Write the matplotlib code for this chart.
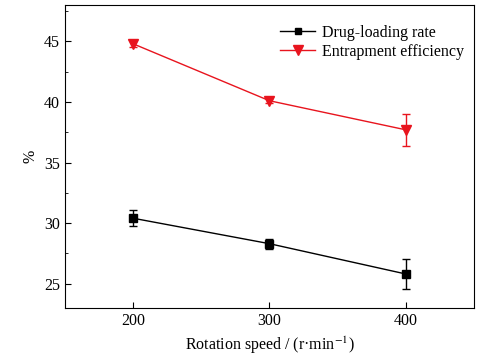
import matplotlib.pyplot as plt
from matplotlib.ticker import MultipleLocator
from matplotlib.lines import Line2D

speed = [200, 300, 400]
drug_loading = [30.4, 28.3, 25.8]
drug_loading_err = [0.65, 0.4, 1.25]
entrapment = [44.8, 40.1, 37.7]
entrapment_err = [0.3, 0.2, 1.3]

plt.rcParams['font.family'] = ['Liberation Serif', 'DejaVu Serif']
plt.rcParams['mathtext.fontset'] = 'stix'

red = '#e8141e'

fig = plt.figure(figsize=(4.92, 3.58), dpi=100)
ax = fig.add_axes([0.132, 0.14, 0.831, 0.846])

ax.errorbar(speed, drug_loading, yerr=drug_loading_err, color='black', marker='s',
            markersize=6, linewidth=1.0, elinewidth=1.0, capsize=3)
ax.errorbar(speed, entrapment, yerr=entrapment_err, color=red, marker='v',
            markersize=7, linewidth=1.0, elinewidth=1.0, capsize=3)

ax.set_xlim(150, 450)
ax.set_ylim(23, 48)
ax.set_xticks(speed)
ax.yaxis.set_major_locator(MultipleLocator(5))
ax.yaxis.set_minor_locator(MultipleLocator(2.5))
ax.tick_params(direction='in', labelsize=11.5, top=False, right=False)
ax.tick_params(which='minor', direction='in', length=2.5)
ax.tick_params(which='major', length=4)

ax.set_xlabel('Rotation speed / (r·min$^{-1}$)', fontsize=11.5)
ax.set_ylabel('%', fontsize=11.5)

handles = [
    Line2D([], [], color='black', marker='s', markersize=5, linewidth=1.0),
    Line2D([], [], color=red, marker='v', markersize=7, linewidth=1.0),
]
ax.legend(handles, ['Drug-loading rate', 'Entrapment efficiency'], loc='upper right',
          bbox_to_anchor=(0.975, 0.935), frameon=False, fontsize=11.5,
          handlelength=2.2, handletextpad=0.4, labelspacing=0.2,
          borderaxespad=0, borderpad=0)

plt.savefig('out.png', dpi=100)
